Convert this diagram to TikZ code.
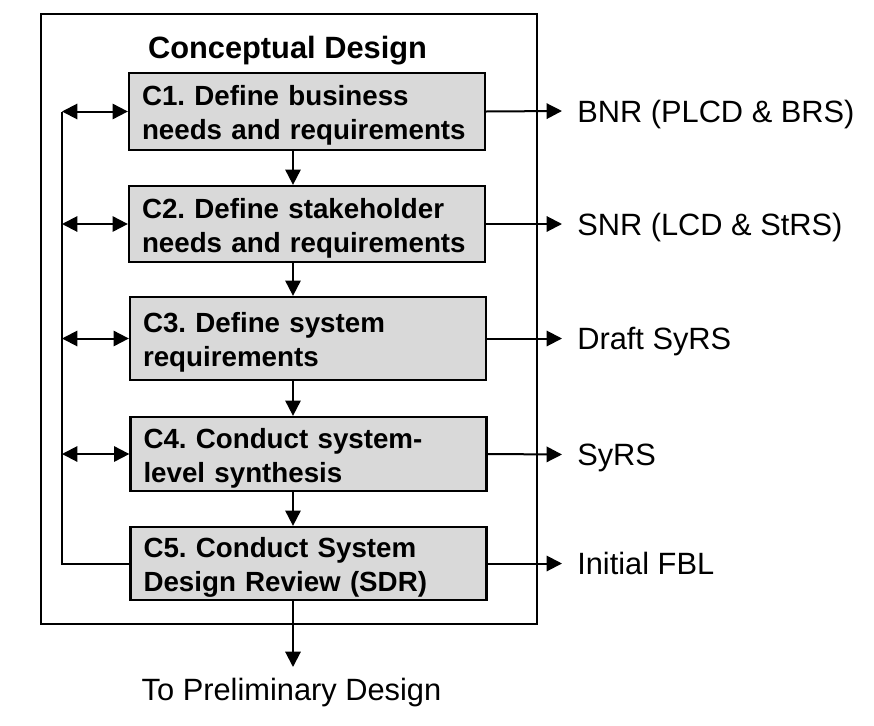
\documentclass[tikz,border=0pt]{standalone}
\usepackage{fontspec}
\setmainfont{Liberation Sans}
\usetikzlibrary{arrows.meta}
\definecolor{boxgray}{RGB}{217,217,217}
\frenchspacing
\tikzset{
  stage/.style={draw=black, fill=boxgray, line width=1.7pt, align=left,
    text width=247.5pt, inner xsep=9.75pt, inner ysep=0pt,
    font=\fontsize{20.8pt}{25.5pt}\selectfont\bfseries,
    execute at begin node={\rule{0pt}{21pt}}},
  outlbl/.style={anchor=west, inner xsep=11.25pt, inner ysep=0pt,
    text height=16.6pt, text depth=0pt,
    font=\fontsize{23.1pt}{27pt}\selectfont},
  conn/.style={line width=1.5pt, draw=black},
  tip/.style={-{Triangle[length=11.5pt,width=11.5pt]}},
  bitip/.style={{Triangle[length=11.5pt,width=11.5pt]}-{Triangle[length=11.5pt,width=11.5pt]}}
}
\begin{document}
\begin{tikzpicture}[x=0.75pt,y=-0.75pt]
\useasboundingbox (0,0) rectangle (874,725);
% outer frame
\node[draw=black, line width=1.5pt, minimum width=372pt, minimum height=457.5pt, inner sep=0pt]
  (frame) at (289,319) {};
\node[anchor=base, font=\fontsize{23.1pt}{27pt}\selectfont\bfseries] (title) at (287.5,58) {Conceptual Design};
% stages
\node[stage, minimum height=57.75pt] (c1) at (307,111.5) {C1. Define business\\needs and requirements};
\node[stage, minimum height=57pt] (c2) at (307,224) {C2. Define stakeholder\\needs and requirements};
\node[stage, minimum height=62.25pt] (c3) at (308,338.5) {C3. Define system\\requirements};
\node[stage, minimum height=55.5pt] (c4) at (308.5,454) {C4. Conduct system-\\level synthesis};
\node[stage, minimum height=54.75pt] (c5) at (308.5,563.5) {C5. Conduct System\\Design Review (SDR)};
% outputs
\node[outlbl] (o1) at (562,111) {BNR (PLCD \& BRS)};
\node[outlbl] (o2) at (562,224) {SNR (LCD \& StRS)};
\node[outlbl] (o3) at (562,338.5) {Draft SyRS};
\node[outlbl] (o4) at (562,454.5) {SyRS};
\node[outlbl] (o5) at (562,563.5) {Initial FBL};
\node[anchor=north, inner xsep=0pt, inner ysep=8.25pt, text height=16.6pt, text depth=4.9pt,
  font=\fontsize{23.1pt}{27pt}\selectfont] (next) at (291.5,667) {To Preliminary Design};
% helper coordinates
\coordinate (ax) at (293,0);
\coordinate (bus) at (62,0);
% vertical flow
\draw[conn,tip] (c1.south -| ax) -- (c2.north -| ax);
\draw[conn,tip] (c2.south -| ax) -- (c3.north -| ax);
\draw[conn,tip] (c3.south -| ax) -- (c4.north -| ax);
\draw[conn,tip] (c4.south -| ax) -- (c5.north -| ax);
\draw[conn,tip] (c5.south -| ax) -- (next.north -| ax);
% left feedback bus
\draw[conn] (c1.west -| bus) -- (c5.west -| bus) -- (c5.west);
\draw[conn,bitip] (c1.west -| bus) -- (c1.west);
\draw[conn,bitip] (c2.west -| bus) -- (c2.west);
\draw[conn,bitip] (c3.west -| bus) -- (c3.west);
\draw[conn,bitip] (c4.west -| bus) -- (c4.west);
% outputs
\draw[conn,tip] (c1.east) -- (o1.west);
\draw[conn,tip] (c2.east) -- (o2.west);
\draw[conn,tip] (c3.east) -- (o3.west);
\draw[conn,tip] (c4.east) -- (o4.west);
\draw[conn,tip] (c5.east) -- (o5.west);
\end{tikzpicture}
\end{document}
